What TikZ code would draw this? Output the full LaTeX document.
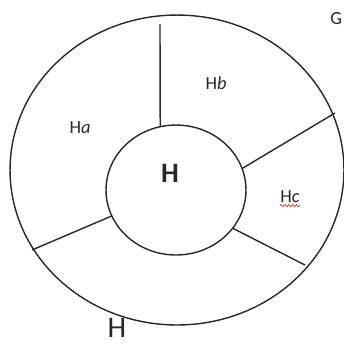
\documentclass[tikz,border=0pt]{standalone}
\usepackage{fontspec}
\setmainfont{Carlito}
\usetikzlibrary{shapes.geometric,decorations.pathmorphing}
\definecolor{inkline}{RGB}{40,40,40}
\definecolor{spellred}{RGB}{205,60,60}

\begin{document}
\begin{tikzpicture}[x=0.02cm, y=-0.02cm,
    ring/.style={draw=inkline, line width=0.8pt, ellipse, inner sep=0pt, outer sep=0pt},
    spoke/.style={draw=inkline, line width=0.8pt},
    part/.style={text=inkline, font=\fontsize{10.5}{12}\selectfont, inner sep=0pt}]
  \useasboundingbox (0,0) rectangle (344,343);
  \clip (0,0) rectangle (344,343);
  % the two circles
  \node[ring, minimum width=6.68cm, minimum height=6.2cm] (outer) at (177,170) {};
  \node[ring, minimum width=2.8cm, minimum height=2.6cm] (inner) at (176,190) {};
  % free ends of the spokes
  \coordinate (enda) at (160,24);
  \coordinate (endb) at (335,113);
  \coordinate (endc) at (305,265);
  \coordinate (endd) at (32,250);
  \foreach \ang/\tip in {104/enda, 18/endb, -34/endc, 202/endd}
    \draw[spoke] (inner.\ang) -- (\tip);
  % labels
  \node[part] (ha) at (80,128) {H\textit{a}};
  \node[part] (hb) at (216,83) {H\textit{b}};
  \node[part] (hc) at (290,197) {H\textit{c}};
  \draw[spellred, line width=0.4pt, decorate,
        decoration={zigzag, amplitude=0.7pt, segment length=2.2pt}]
    ([yshift=-1.6pt]hc.base west) -- ([yshift=-1.6pt]hc.base east);
  \node[text=inkline, font=\fontsize{16}{18}\selectfont\bfseries, inner sep=0pt] (core) at (170,173) {H};
  \node[text=inkline, font=\fontsize{17}{19}\selectfont, inner sep=0pt, anchor=north] (whole) at (117,318) {H};
  \node[part, anchor=north west] (group) at (330,12) {G};
\end{tikzpicture}
\end{document}
